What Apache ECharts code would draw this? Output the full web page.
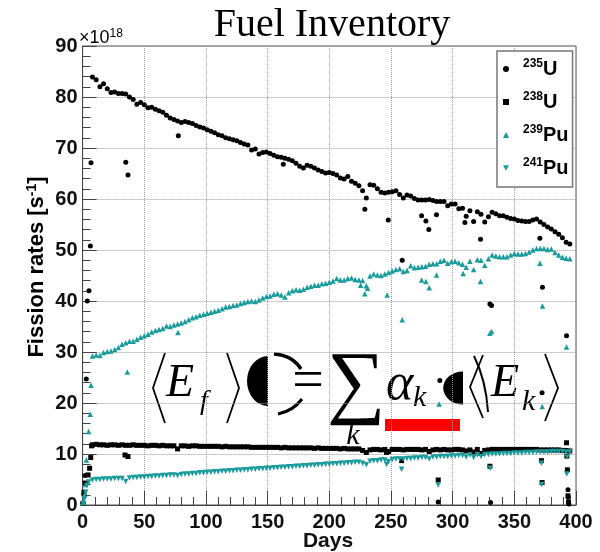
<!DOCTYPE html>
<html><head><meta charset="utf-8">
<script src="https://cdn.jsdelivr.net/npm/echarts@6/dist/echarts.min.js"></script>
<style>html,body{margin:0;padding:0;background:#fff}#c{width:600px;height:552px}</style>
</head><body><div id="c"></div>
<script>
// ---- data (days, fission rates in units of 1e18 /s) ----
const days = [8,11,14,17,20,23,26,29,32,35,38,41,44,47,50,53,56,59,62,65,68,71,74,77,80,83,86,89,92,95,98,101,104,107,110,113,116,119,122,125,128,131,134,137,140,143,146,149,152,155,158,161,164,167,170,173,176,179,182,185,188,191,194,197,200,203,206,209,212,215,218,221,224,227,230,233,236,239,242,245,248,251,254,257,260,263,266,269,272,275,278,281,284,287,290,293,296,299,302,305,308,311,314,317,320,323,326,329,332,335,338,341,344,347,350,353,356,359,362,365,368,371,374,377,380,383,386,389,392,395];
const u235 = [83.9,83.4,82.0,82.6,81.6,80.9,81.0,80.7,80.7,80.6,
80.0,79.5,78.6,78.9,78.5,77.9,78.0,77.6,77.3,77.0,
76.4,75.9,75.6,75.3,75.0,75.2,75.0,74.8,74.4,74.1,
73.9,73.6,73.3,73.0,72.6,72.4,72.0,71.8,71.6,71.4,
71.1,70.8,70.6,69.6,69.8,68.8,69.1,69.2,68.9,68.6,
68.3,68.2,68.0,67.8,67.5,67.0,66.4,66.1,66.6,66.4,
66.1,65.7,65.4,65.1,65.2,65.0,64.7,64.1,63.9,64.4,
63.5,63.1,62.6,61.6,60.2,62.8,62.7,62.0,61.3,61.2,
61.3,61.4,61.6,60.9,60.2,60.8,60.6,60.1,59.8,59.8,
59.8,59.9,59.7,59.5,59.5,59.5,58.7,59.0,59.0,58.1,
58.2,56.6,57.7,55.6,57.5,57.0,55.5,56.5,57.4,57.1,
56.7,56.7,56.4,56.2,56.1,55.8,55.7,55.6,55.6,55.9,
56.1,55.5,55.0,54.5,54.1,53.6,53.1,52.4,51.5,51.2];
const u238 = [11.8,11.9,11.8,11.8,11.7,11.8,11.8,11.7,11.8,11.7,
11.7,11.8,11.7,11.7,11.7,11.6,11.7,11.7,11.6,11.7,
11.6,11.6,11.6,11.0,11.6,11.6,11.5,11.6,11.6,11.5,
11.5,11.5,11.5,11.5,11.5,11.4,11.5,11.4,11.4,11.4,
11.4,11.4,11.4,11.3,11.3,11.3,11.3,11.3,11.3,11.3,
11.3,11.2,11.3,11.2,11.2,11.2,11.2,11.2,11.2,11.2,
11.1,11.2,11.1,11.1,11.1,11.1,11.1,11.0,11.1,11.0,
11.0,11.0,11.0,10.7,10.3,10.8,10.9,10.9,10.8,10.9,
10.5,10.9,10.9,10.9,10.8,10.9,10.9,10.9,10.9,10.8,
10.9,10.5,10.8,10.9,10.8,10.9,10.8,10.8,10.9,10.9,
10.8,10.6,10.8,10.4,10.9,10.1,10.7,10.8,10.9,10.9,
10.9,10.9,10.9,10.9,10.9,10.9,10.9,10.9,10.9,10.9,
10.9,10.8,10.8,10.8,10.8,10.8,10.8,10.7,10.7,10.6];
const pu239 = [29.2,29.4,29.3,29.9,30.1,30.2,30.5,30.9,31.5,31.8,
32.1,32.1,32.5,32.9,33.2,33.5,33.9,34.2,34.4,34.6,
35.1,35.0,35.3,35.5,35.7,36.0,36.3,36.7,36.9,37.2,
37.4,37.6,37.8,38.0,38.2,38.5,38.8,38.9,39.1,39.2,
39.5,39.7,39.9,40.0,39.9,40.2,40.6,40.9,41.0,41.3,
41.4,41.2,40.8,41.6,42.0,42.2,42.1,42.3,42.7,42.9,
43.1,43.1,43.4,43.5,43.7,43.9,44.4,44.1,44.1,44.4,
44.5,44.2,44.1,44.0,43.0,44.9,45.3,45.1,45.0,45.3,
45.6,45.9,46.2,46.3,45.8,46.0,46.9,46.5,46.6,46.7,
46.8,47.2,47.3,47.3,47.8,48.0,47.4,47.7,47.8,47.5,
47.2,46.6,47.8,46.2,48.1,48.0,47.0,48.3,49.0,48.8,
48.7,48.7,48.7,49.0,49.3,49.2,49.2,49.3,49.6,50.0,
50.3,50.3,50.3,50.1,50.2,49.5,49.0,48.6,48.4,48.3];
const pu241 = [4.9,5.0,5.0,5.1,5.1,5.1,5.2,5.2,5.2,4.6,
5.3,5.4,5.4,5.5,5.5,5.6,5.6,5.7,5.7,5.8,
5.8,5.9,5.9,5.8,6.0,6.1,6.1,6.2,6.2,6.3,
6.3,6.4,6.4,6.5,6.5,6.6,6.6,6.7,6.7,6.8,
6.8,6.9,6.9,7.0,7.0,7.1,7.1,7.2,7.2,7.3,
7.3,7.4,7.4,7.5,7.5,7.6,7.6,7.7,7.7,7.8,
7.8,7.9,7.9,8.0,8.0,8.1,8.1,8.2,8.2,8.3,
8.3,8.4,8.4,8.2,7.9,8.6,8.7,8.7,8.8,8.8,
8.5,8.9,9.0,9.0,9.0,9.1,9.1,9.2,9.2,9.3,
9.3,9.0,9.4,9.4,9.5,9.5,9.5,9.6,9.6,9.7,
9.7,9.4,9.8,9.3,9.8,9.5,9.9,9.9,10.0,10.0,
10.0,10.1,10.1,10.1,10.2,10.2,10.2,10.3,10.3,10.3,
10.4,10.4,10.4,10.4,10.5,10.5,10.5,10.5,10.4,10.4];
// start-up ramp and off-trend readings
const u235ExtraDays = [0.2,1.0,2.0,3.0,3.8,5.2,6.3,6.8,35.0,36.8,77.6,162.7,228.8,247.8,259.1,274.8,278.3,280.7,286.9,288.3,289.6,309.9,322.6,330.2,331.5,330.7,370.7,372.5,372.8,392.3,393.5,393.8,394.2];
const u235ExtraVals = [0.4,2.0,5.8,24.7,40.0,42.0,50.8,67.1,67.2,64.7,72.4,66.8,58.0,55.9,48.0,56.7,55.7,54.0,56.9,0.6,24.4,55.4,52.1,39.4,39.1,0.5,52.3,22.0,42.7,33.2,3.0,1.5,0.2];
const u238ExtraDays = [0.3,1.1,2.2,4.4,5.7,6.6,7.3,34.4,36.8,246.4,258.6,288.3,330.2,372.0,372.5,392.3,392.6,393.0,393.5,393.9];
const u238ExtraVals = [0.3,2.5,4.3,5.9,7.2,9.3,11.6,9.8,9.5,10.3,8.7,4.9,7.6,8.7,4.4,12.2,9.6,6.9,1.8,0.6];
const pu239ExtraDays = [0.5,1.5,2.5,3.0,4.9,6.2,6.8,36.2,77.3,225.4,228.8,231.0,246.9,259.1,274.8,278.3,281.0,286.9,289.0,308.5,322.6,330.2,331.5,370.7,372.6,372.8,392.3];
const pu239ExtraVals = [0.5,2.0,4.0,8.8,14.4,17.8,23.5,26.1,33.8,43.1,41.4,42.5,41.2,36.3,44.1,43.8,42.6,45.1,19.8,45.4,43.8,33.7,34.0,47.4,19.3,39.0,31.0];
const pu241ExtraDays = [0.5,1.5,2.5,3.5,5.0,246.4,258.6,288.3,330.5,372.0,372.2,392.5,392.8];
const pu241ExtraVals = [0.3,1.2,2.5,3.8,4.5,8.0,7.0,3.9,7.2,8.2,4.0,6.1,9.4];
const seriesNames = ['235U','238U','239Pu','241Pu'];
const isoMass = ['235','238','239','241'];
const isoElem = ['U','U','Pu','Pu'];

// ---- chart ----
const teal = '#1a9c9c';
function pairs(d, v){ return d.map((x,i)=>[x, v[i]]); }
const chart = echarts.init(document.getElementById('c'), null, {renderer:'canvas'});
const axisCommon = {
  axisLine:{show:true, onZero:false, lineStyle:{color:'#444', width:1}},
  axisTick:{show:true, inside:true, length:14, lineStyle:{color:'#444', width:1}},
  minorTick:{show:true, splitNumber:5, length:8, lineStyle:{color:'#444', width:1}},
  splitLine:{show:true, lineStyle:{type:'dotted', color:'#9a9a9a', width:1}},
  axisLabel:{color:'#111', fontFamily:'Liberation Sans', fontWeight:'bold', fontSize:20}
};
const rich = {
  s:{fontSize:12, fontWeight:'bold', fontFamily:'Liberation Sans', color:'#000', verticalAlign:'top', lineHeight:12},
  e:{fontSize:20, fontWeight:'bold', fontFamily:'Liberation Sans', color:'#000', lineHeight:22}
};
const serif = '"Liberation Serif", "DejaVu Serif", serif';
const downTri = 'path://M0,0L10,0L5,9Z';
const option = {
  animation:false,
  backgroundColor:'#fff',
  grid:{left:82.6, right:24, top:46, bottom:47, show:true, borderColor:'#555', borderWidth:1, backgroundColor:'transparent'},
  xAxis:Object.assign({type:'value', min:0, max:400, interval:50}, axisCommon,
    {axisLabel:Object.assign({}, axisCommon.axisLabel, {margin:7})}),
  yAxis:Object.assign({type:'value', min:0, max:90, interval:10}, axisCommon,
    {axisLabel:Object.assign({}, axisCommon.axisLabel, {margin:5})}),
  legend:{
    orient:'vertical', left:497, top:51, padding:[7,4,9,6], itemGap:12,
    itemWidth:6, itemHeight:6, borderColor:'#777', borderWidth:1.5, backgroundColor:'#fff',
    data:[
      {name:seriesNames[0], icon:'circle', itemStyle:{color:'#000', opacity:1}},
      {name:seriesNames[1], icon:'rect', itemStyle:{color:'#000', opacity:1}},
      {name:seriesNames[2], icon:'triangle', itemStyle:{color:teal, opacity:1}},
      {name:seriesNames[3], icon:downTri, itemStyle:{color:teal, opacity:1}}
    ],
    formatter:function(name){ const i = seriesNames.indexOf(name); return '{s|'+isoMass[i]+'}{e|'+isoElem[i]+'}'; },
    textStyle:{padding:[0,0,0,9], rich:rich}
  },
  series:[
    {type:'scatter', name:seriesNames[0], symbol:'circle', symbolSize:5, itemStyle:{color:'#000', opacity:1},
     data:pairs(days,u235).concat(pairs(u235ExtraDays,u235ExtraVals))},
    {type:'scatter', name:seriesNames[1], symbol:'rect', symbolSize:5, itemStyle:{color:'#000', opacity:1},
     data:pairs(days,u238).concat(pairs(u238ExtraDays,u238ExtraVals))},
    {type:'scatter', name:seriesNames[2], symbol:'triangle', symbolSize:5.5, itemStyle:{color:teal, opacity:1},
     data:pairs(days,pu239).concat(pairs(pu239ExtraDays,pu239ExtraVals))},
    {type:'scatter', name:seriesNames[3], symbol:'triangle', symbolRotate:180, symbolSize:5.5, itemStyle:{color:teal, opacity:1},
     data:pairs(days,pu241).concat(pairs(pu241ExtraDays,pu241ExtraVals))}
  ],
  graphic:[
    {type:'text', x:332, y:25, style:{text:'Fuel Inventory', font:'40px '+serif, fill:'#000', align:'center', verticalAlign:'middle'}},
    {type:'text', x:79, y:38, style:{text:'{a|\u00d710}{b|18}', align:'left', verticalAlign:'middle',
      rich:{a:{fontSize:18, fontFamily:'Liberation Sans', color:'#000', lineHeight:20}, b:{fontSize:12, fontFamily:'Liberation Sans', color:'#000', verticalAlign:'top', lineHeight:12}}}},
    {type:'text', x:37, y:267, rotation:Math.PI/2, style:{text:'{a|Fission rates [s}{b|-1}{a|]}', align:'center', verticalAlign:'middle',
      rich:{a:{fontSize:22, fontWeight:'bold', fontFamily:'Liberation Sans', color:'#111', lineHeight:24}, b:{fontSize:14, fontWeight:'bold', fontFamily:'Liberation Sans', color:'#111', verticalAlign:'top', lineHeight:14}}}},
    {type:'text', x:328, y:541, style:{text:'Days', font:'bold 21px "Liberation Sans"', fill:'#111', align:'center', verticalAlign:'middle'}},
    // formula overlay
    {type:'group', z:100, children:[
      {type:'polyline', shape:{points:[[165,353],[153,388],[165,423]]}, style:{stroke:'#000', lineWidth:1.8, fill:null}},
      {type:'text', x:166, y:384, style:{text:'E', font:'italic 46px '+serif, fill:'#000', align:'left', verticalAlign:'middle'}},
      {type:'text', x:200, y:402, style:{text:'f', font:'italic 28px '+serif, fill:'#000', align:'left', verticalAlign:'middle'}},
      {type:'polyline', shape:{points:[[227,353],[239,388],[227,423]]}, style:{stroke:'#000', lineWidth:1.8, fill:null}},
      {type:'sector', x:268, y:381, scaleX:0.84, shape:{cx:0, cy:0, r:25, startAngle:Math.PI/2, endAngle:Math.PI*1.5}, style:{fill:'#000'}},
      {type:'bezierCurve', shape:{x1:274, y1:354, cpx1:292, cpy1:355, x2:301, y2:369}, style:{stroke:'#000', lineWidth:3.5, fill:null}},
      {type:'bezierCurve', shape:{x1:278, y1:414, cpx1:293, cpy1:411, x2:302, y2:399}, style:{stroke:'#000', lineWidth:3, fill:null}},
      {type:'text', x:308, y:383, style:{text:'=', font:'56px '+serif, fill:'#000', align:'center', verticalAlign:'middle'}},
      {type:'text', x:356, y:386, style:{text:'\u2211', font:'82px '+serif, fill:'#000', align:'center', verticalAlign:'middle'}},
      {type:'text', x:353, y:436, style:{text:'k', font:'italic 30px '+serif, fill:'#000', align:'center', verticalAlign:'middle'}},
      {type:'text', x:386, y:385, style:{text:'\u03b1', font:'italic 52px '+serif, fill:'#000', align:'left', verticalAlign:'middle'}},
      {type:'text', x:413, y:398, style:{text:'k', font:'italic 30px '+serif, fill:'#000', align:'left', verticalAlign:'middle'}},
      {type:'sector', x:463, y:388, scaleX:1.2, shape:{cx:0, cy:0, r:16.5, startAngle:Math.PI/2, endAngle:Math.PI*1.5}, style:{fill:'#000'}},
      {type:'polyline', shape:{points:[[483,355],[470,387],[483,418]]}, style:{stroke:'#000', lineWidth:1.8, fill:null}},
      {type:'bezierCurve', shape:{x1:474, y1:356, cpx1:486, cpy1:380, x2:488, y2:412}, style:{stroke:'#000', lineWidth:2, fill:null}},
      {type:'text', x:491, y:384, style:{text:'E', font:'italic 46px '+serif, fill:'#000', align:'left', verticalAlign:'middle'}},
      {type:'text', x:522, y:402, style:{text:'k', font:'italic 30px '+serif, fill:'#000', align:'left', verticalAlign:'middle'}},
      {type:'polyline', shape:{points:[[545,354],[558,388],[545,421]]}, style:{stroke:'#000', lineWidth:1.8, fill:null}},
      {type:'rect', shape:{x:385, y:419, width:75, height:12}, style:{fill:'#ff0000'}}
    ]}
  ]
};
chart.setOption(option);
</script>
</body></html>
